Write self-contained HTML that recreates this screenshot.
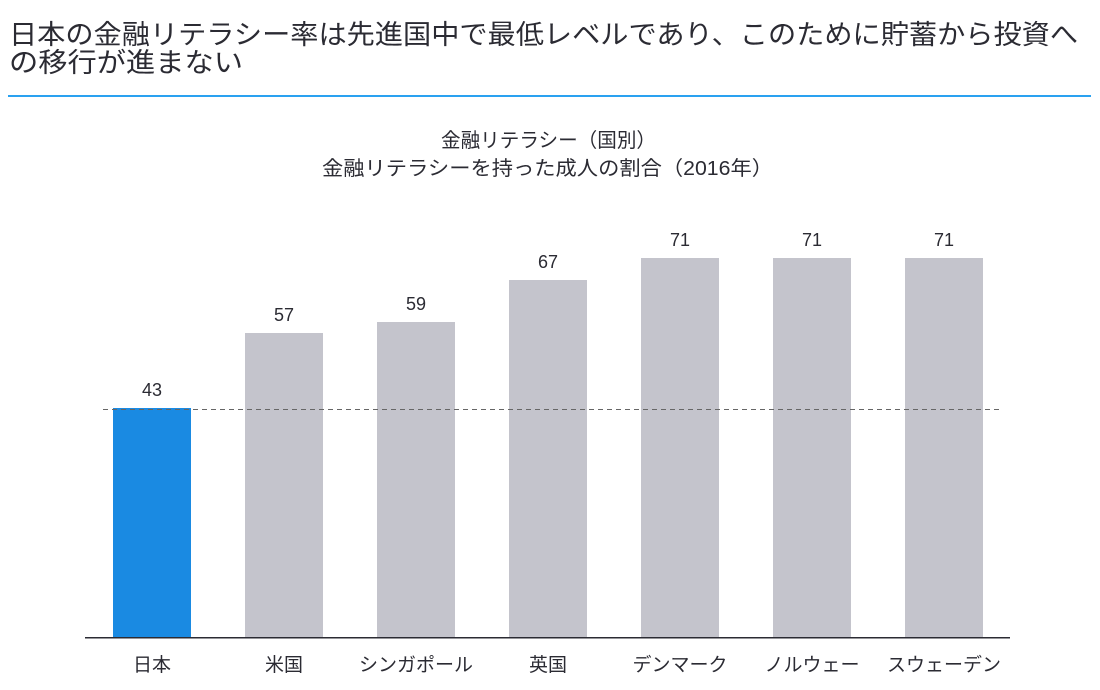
<!DOCTYPE html>
<html><head><meta charset="utf-8"><style>
body{margin:0;background:#fff;width:1100px;height:685px;overflow:hidden}
svg text{font-family:"Liberation Sans","Noto Sans CJK JP",sans-serif;fill:#2b2b33}
</style></head><body>
<svg width="1100" height="685" viewBox="0 0 1100 685" xmlns="http://www.w3.org/2000/svg">
<text x="9" y="44" font-size="27" textLength="1069" lengthAdjust="spacingAndGlyphs">日本の金融リテラシー率は先進国中で最低レベルであり、このために貯蓄から投資へ</text>
<text x="9" y="72" font-size="27" textLength="234" lengthAdjust="spacingAndGlyphs">の移行が進まない</text>
<rect x="8" y="95" width="1083" height="2" fill="#2aa1f0"/>
<text x="441" y="147" font-size="20" textLength="215" lengthAdjust="spacingAndGlyphs">金融リテラシー（国別）</text>
<text x="322" y="175" font-size="20" textLength="451" lengthAdjust="spacingAndGlyphs">金融リテラシーを持った成人の割合（2016年）</text>
<g fill="#c4c4cc">
<rect x="113" y="408" width="78" height="230" fill="#1a8ae2"/>
<rect x="245" y="333" width="78" height="305"/>
<rect x="377" y="322" width="78" height="316"/>
<rect x="509" y="280" width="78" height="358"/>
<rect x="641" y="258" width="78" height="380"/>
<rect x="773" y="258" width="78" height="380"/>
<rect x="905" y="258" width="78" height="380"/>
</g>
<line x1="103" y1="409.5" x2="1000" y2="409.5" stroke="#666" stroke-width="1" stroke-dasharray="5,4"/>
<rect x="85" y="637" width="925" height="1.5" fill="#2b2b33"/>
<g font-size="18" text-anchor="middle">
<text x="152" y="396">43</text>
<text x="284" y="321">57</text>
<text x="416" y="310">59</text>
<text x="548" y="268">67</text>
<text x="680" y="246">71</text>
<text x="812" y="246">71</text>
<text x="944" y="246">71</text>
</g>
<g font-size="19" text-anchor="middle">
<text x="152" y="671">日本</text>
<text x="284" y="671">米国</text>
<text x="416" y="671">シンガポール</text>
<text x="548" y="671">英国</text>
<text x="680" y="671">デンマーク</text>
<text x="812" y="671">ノルウェー</text>
<text x="944" y="671">スウェーデン</text>
</g>
</svg>
</body></html>
